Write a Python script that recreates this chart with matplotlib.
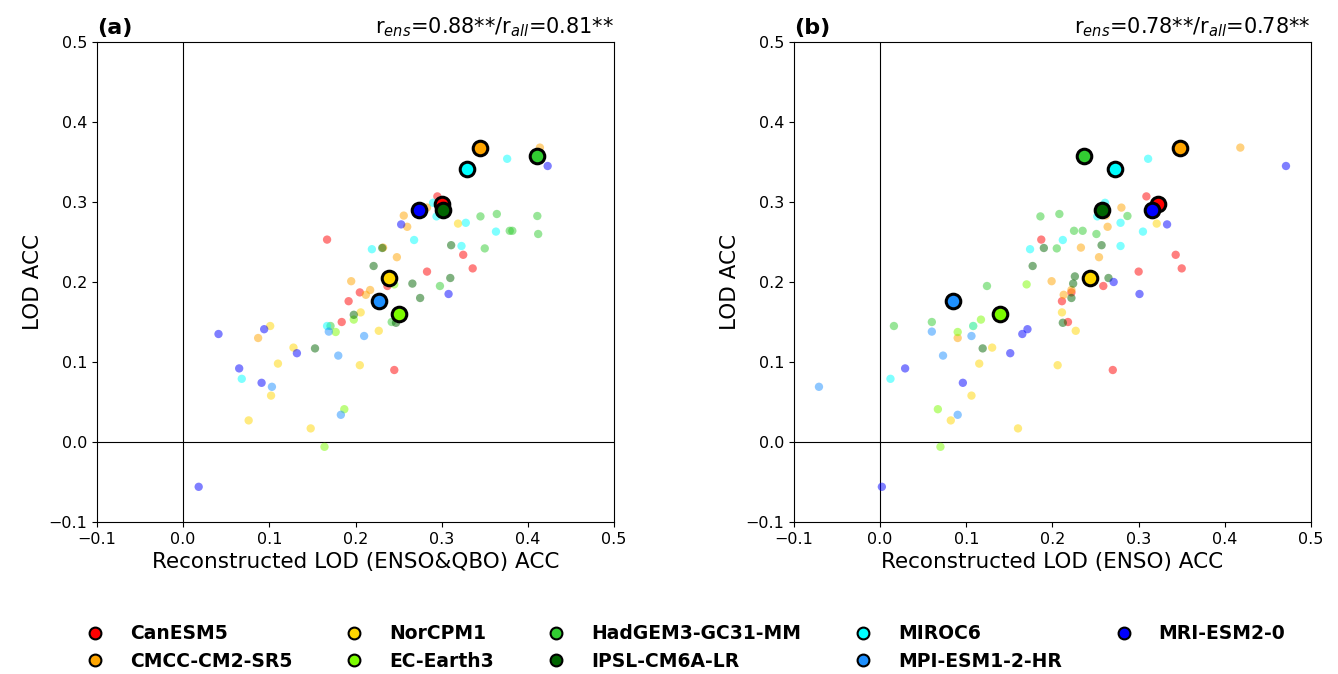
import matplotlib
matplotlib.use("Agg")
import matplotlib.pyplot as plt
from matplotlib.lines import Line2D

# model names / colours
models = ["CanESM5", "CMCC-CM2-SR5", "NorCPM1", "EC-Earth3", "HadGEM3-GC31-MM",
          "IPSL-CM6A-LR", "MIROC6", "MPI-ESM1-2-HR", "MRI-ESM2-0"]
colors = ["red", "orange", "gold", "lawngreen", "limegreen",
          "darkgreen", "cyan", "dodgerblue", "blue"]

# members: LOD ACC (y), reconstructed ACC ENSO&QBO (xa), ENSO only (xb)
canesm5_y = [0.253, 0.307, 0.234, 0.217, 0.213, 0.195, 0.187, 0.176, 0.150, 0.090]
canesm5_xa = [0.167, 0.295, 0.325, 0.336, 0.283, 0.237, 0.205, 0.192, 0.184, 0.245]
canesm5_xb = [0.187, 0.309, 0.343, 0.350, 0.300, 0.259, 0.222, 0.211, 0.218, 0.270]

cmcc_y = [0.368, 0.293, 0.283, 0.269, 0.243, 0.231, 0.201, 0.190, 0.184, 0.130]
cmcc_xa = [0.414, 0.283, 0.256, 0.260, 0.232, 0.248, 0.195, 0.217, 0.212, 0.087]
cmcc_xb = [0.418, 0.280, 0.262, 0.264, 0.233, 0.254, 0.199, 0.222, 0.213, 0.090]

norcpm_y = [0.273, 0.162, 0.145, 0.139, 0.118, 0.098, 0.096, 0.058, 0.027, 0.017]
norcpm_xa = [0.319, 0.206, 0.101, 0.227, 0.128, 0.110, 0.205, 0.102, 0.076, 0.148]
norcpm_xb = [0.321, 0.211, 0.108, 0.227, 0.130, 0.115, 0.206, 0.106, 0.082, 0.160]

ecearth_y = [0.197, 0.153, 0.1375, 0.041, -0.006]
ecearth_xa = [0.245, 0.198, 0.177, 0.187, 0.164]
ecearth_xb = [0.170, 0.117, 0.090, 0.067, 0.070]

hadgem_y = [0.282, 0.285, 0.2825, 0.260, 0.264, 0.264, 0.242, 0.195, 0.150, 0.145]
hadgem_xa = [0.345, 0.364, 0.411, 0.412, 0.379, 0.382, 0.350, 0.298, 0.242, 0.171]
hadgem_xb = [0.186, 0.208, 0.287, 0.251, 0.225, 0.235, 0.205, 0.124, 0.060, 0.016]

ipsl_y = [0.246, 0.2425, 0.220, 0.207, 0.205, 0.198, 0.180, 0.159, 0.149, 0.117]
ipsl_xa = [0.311, 0.231, 0.221, 0.240, 0.310, 0.266, 0.275, 0.198, 0.247, 0.153]
ipsl_xb = [0.257, 0.190, 0.177, 0.226, 0.265, 0.224, 0.222, 0.139, 0.212, 0.119]

miroc_y = [0.354, 0.299, 0.282, 0.274, 0.263, 0.2525, 0.245, 0.241, 0.145, 0.079]
miroc_xa = [0.376, 0.290, 0.294, 0.328, 0.363, 0.268, 0.323, 0.219, 0.167, 0.068]
miroc_xb = [0.311, 0.261, 0.252, 0.279, 0.305, 0.212, 0.279, 0.174, 0.108, 0.012]

mpi_y = [0.138, 0.1325, 0.108, 0.069, 0.034]
mpi_xa = [0.169, 0.210, 0.180, 0.103, 0.183]
mpi_xb = [0.060, 0.106, 0.073, -0.071, 0.090]

mri_y = [0.345, 0.272, 0.200, 0.185, 0.141, 0.135, 0.111, 0.092, 0.074, -0.056]
mri_xa = [0.423, 0.253, 0.242, 0.308, 0.094, 0.041, 0.132, 0.065, 0.091, 0.018]
mri_xb = [0.471, 0.333, 0.271, 0.301, 0.171, 0.165, 0.151, 0.029, 0.096, 0.002]

# ensemble means (same model order)
ens_y = [0.298, 0.367, 0.205, 0.160, 0.358, 0.290, 0.341, 0.176, 0.290]
ens_xa = [0.300, 0.344, 0.239, 0.250, 0.411, 0.301, 0.329, 0.227, 0.274]
ens_xb = [0.322, 0.348, 0.244, 0.139, 0.237, 0.257, 0.273, 0.085, 0.315]

r_text = ["r$_{ens}$=0.88**/r$_{all}$=0.81**", "r$_{ens}$=0.78**/r$_{all}$=0.78**"]
xlabels = ["Reconstructed LOD (ENSO&QBO) ACC", "Reconstructed LOD (ENSO) ACC"]
panels = ["(a)", "(b)"]

members_y = [canesm5_y, cmcc_y, norcpm_y, ecearth_y, hadgem_y, ipsl_y, miroc_y, mpi_y, mri_y]
members_xa = [canesm5_xa, cmcc_xa, norcpm_xa, ecearth_xa, hadgem_xa, ipsl_xa, miroc_xa, mpi_xa, mri_xa]
members_xb = [canesm5_xb, cmcc_xb, norcpm_xb, ecearth_xb, hadgem_xb, ipsl_xb, miroc_xb, mpi_xb, mri_xb]

fig = plt.figure(figsize=(13.38, 6.74), dpi=100)
ax1 = fig.add_axes([0.0725, 0.2255, 0.3864, 0.7122])
ax2 = fig.add_axes([0.5934, 0.2255, 0.3864, 0.7122])

for k, (ax, mx, ex) in enumerate([(ax1, members_xa, ens_xa), (ax2, members_xb, ens_xb)]):
    ax.axhline(0, color="black", lw=0.8, zorder=1)
    ax.axvline(0, color="black", lw=0.8, zorder=1)
    for i in range(len(models)):
        ax.scatter(mx[i], members_y[i], s=36, color=colors[i], alpha=0.5,
                   edgecolors="none", zorder=2)
    for i in range(len(models)):
        ax.scatter(ex[i], ens_y[i], s=110, color=colors[i], edgecolors="black",
                   linewidths=2.2, zorder=3)
    ax.set_xlim(-0.1, 0.5)
    ax.set_ylim(-0.1, 0.5)
    ax.set_xticks([-0.1, 0.0, 0.1, 0.2, 0.3, 0.4, 0.5])
    ax.set_yticks([-0.1, 0.0, 0.1, 0.2, 0.3, 0.4, 0.5])
    ax.tick_params(labelsize=11.5)
    ax.set_xlabel(xlabels[k], fontsize=15.5)
    ax.set_ylabel("LOD ACC", fontsize=15.5)
    ax.set_title(panels[k], loc="left", fontsize=16, fontweight="bold")
    ax.set_title(r_text[k], loc="right", fontsize=15)

handles = [Line2D([], [], ls="none", marker="o", markersize=8.5, markerfacecolor=c,
                  markeredgecolor="black", markeredgewidth=1.5) for c in colors]
fig.legend(handles, models, loc="lower left", bbox_to_anchor=(0.0443, -0.020), ncol=5,
           frameon=False, prop={"size": 13.5, "weight": "bold"},
           columnspacing=2.3, handletextpad=0.87, labelspacing=0.45)

fig.savefig("out.png", dpi=100)
